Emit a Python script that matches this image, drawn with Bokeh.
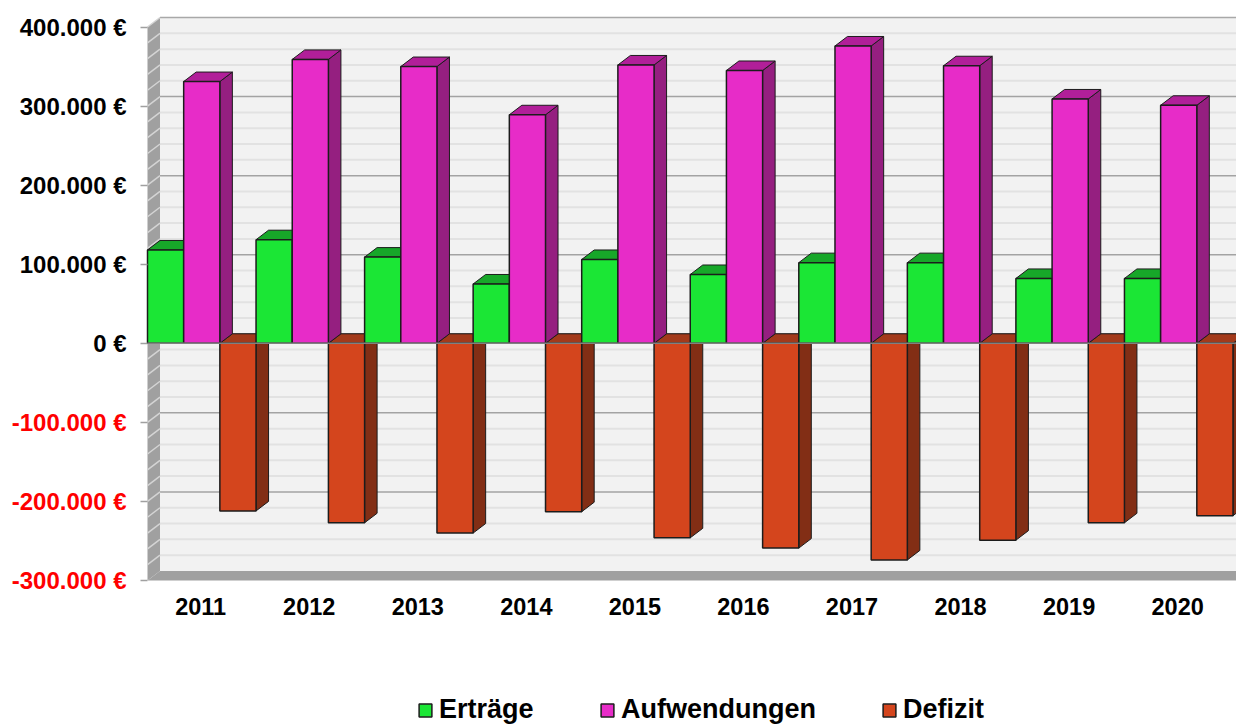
from bokeh.plotting import figure
from bokeh.models import (ColumnDataSource, FixedTicker, Legend, LegendItem, LinearAxis, Range1d)
from bokeh.embed import file_html
from bokeh.resources import INLINE
import numpy as np

years = ["2011","2012","2013","2014","2015","2016","2017","2018","2019","2020"]
ertraege = [118000,131000,109000,75000,106000,87000,102000,102000,82000,82000]
aufwendungen = [331000,359000,350000,289000,352000,345000,376000,351000,309000,301000]
defizit = [-212000,-227000,-240000,-213000,-246000,-259000,-274000,-249000,-227000,-218000]
pos_ticks = [400000,300000,200000,100000,0]
pos_labels = ["400.000 €","300.000 €","200.000 €","100.000 €","0 €"]
neg_ticks = [-100000,-200000,-300000]
neg_labels = ["-100.000 €","-200.000 €","-300.000 €"]

W, H = 1236, 724
X0, Y_FLOOR = 147, 580    # pixel position of value x=0 and of -300.000
PXV = 553.5 / 700000      # px per euro
PXC = 108.55              # px per category
DX, DY = 12.5 / PXC, 9.5 / PXV   # depth in data units
BW = 1 / 3
FONT = "Liberation Sans"

p = figure(width=W, height=H, output_backend="svg", toolbar_location=None,
           x_range=Range1d(-X0 / PXC, (W - X0) / PXC),
           y_range=Range1d(-300000 - (H - Y_FLOOR) / PXV, -300000 + Y_FLOOR / PXV),
           min_border_left=0, min_border_right=0, min_border_top=0, min_border_bottom=0,
           outline_line_color=None, background_fill_color="white", border_fill_color="white")
p.grid.visible = False
XR = (W - X0) / PXC + 1

# walls
p.quad(left=[DX], right=[XR], bottom=[-300000 + DY], top=[400000 + DY],
       fill_color="#f2f2f2", line_color=None)
p.patches(xs=[[0, DX, DX, 0]], ys=[[-300000, -300000 + DY, 400000 + DY, 400000]],
          fill_color="#a0a0a0", line_color=None)
p.patches(xs=[[0, DX, XR, XR]], ys=[[-300000, -300000 + DY, -300000 + DY, -300000]],
          fill_color="#a0a0a0", line_color=None)

minor = [float(v) for v in np.arange(-280000, 400000, 20000) if v % 100000 != 0]
major = [float(v) for v in np.arange(-200000, 400000, 100000)]
p.multi_line(xs=[[DX, XR]] * len(minor), ys=[[v + DY, v + DY] for v in minor],
             line_color="#e2e2e2", line_width=2)
p.multi_line(xs=[[DX, XR]] * len(major), ys=[[v + DY, v + DY] for v in major],
             line_color="#a3a3a3", line_width=1.5)
p.line([DX, XR], [400000 + DY, 400000 + DY], line_color="#a8a8a8", line_width=1.5)
diag = minor + major + [400000.0]
p.multi_line(xs=[[0, DX]] * len(diag), ys=[[v, v + DY] for v in diag],
             line_color="#d4d4d4", line_width=1.5)

OUT = "#1c1c1c"

def bars(values, slot, front, top, side):
    lefts = [i + slot * BW for i in range(len(values))]
    rights = [l + BW for l in lefts]
    p.patches(xs=[[r, r + DX, r + DX, r] for r in rights],
              ys=[[0, DY, v + DY, v] for v in values],
              fill_color=side, line_color=OUT, line_width=1)
    tv = [max(v, 0) for v in values]
    p.patches(xs=[[l, l + DX, r + DX, r] for l, r in zip(lefts, rights)],
              ys=[[v, v + DY, v + DY, v] for v in tv],
              fill_color=top, line_color=OUT, line_width=1)
    src = ColumnDataSource(dict(left=lefts, right=rights,
                                top=[max(v, 0) for v in values],
                                bottom=[min(v, 0) for v in values]))
    return p.quad(left="left", right="right", top="top", bottom="bottom", source=src,
                  fill_color=front, line_color=OUT, line_width=1.5)

r_def = bars(defizit, 2, "#d4451d", "#a33a1b", "#822e15")
r_ert = bars(ertraege, 0, "#1be635", "#17a729", "#17a729")
r_auf = bars(aufwendungen, 1, "#e72cc8", "#b11f99", "#951f80")

# zero line in the front plane
p.line([0, XR], [0, 0], line_color="#808080", line_width=1.5)

def style_y(ax, ticks, labels, color):
    ax.fixed_location = 0
    ax.ticker = FixedTicker(ticks=ticks)
    ax.major_label_overrides = dict(zip(ticks, labels))
    ax.axis_line_color = None
    ax.major_tick_out = 7
    ax.major_tick_in = 0
    ax.major_tick_line_color = "#a0a0a0"
    ax.major_tick_line_width = 1.5
    ax.minor_tick_line_color = None
    ax.major_label_standoff = 14
    ax.major_label_text_font = FONT
    ax.major_label_text_font_style = "bold"
    ax.major_label_text_font_size = "24px"
    ax.major_label_text_color = color

style_y(p.yaxis[0], pos_ticks, pos_labels, "black")
neg_axis = LinearAxis()
style_y(neg_axis, neg_ticks, neg_labels, "#ff0000")
p.add_layout(neg_axis, "left")

ticks_x = [i + 0.49 for i in range(len(years))]
xa = p.xaxis[0]
xa.fixed_location = -300000
xa.ticker = FixedTicker(ticks=ticks_x)
xa.major_label_overrides = dict(zip(ticks_x, years))
xa.axis_line_color = None
xa.major_tick_line_color = None
xa.minor_tick_line_color = None
xa.major_tick_out = 0
xa.major_tick_in = 0
xa.major_label_standoff = 17
xa.major_label_text_font = FONT
xa.major_label_text_font_style = "bold"
xa.major_label_text_font_size = "23.5px"
xa.major_label_text_color = "black"

# legends
for label, rend, lx in [("Erträge", r_ert, 417), ("Aufwendungen", r_auf, 599), ("Defizit", r_def, 881)]:
    lg = Legend(items=[LegendItem(label=label, renderers=[rend])], location=(lx, -1),
                orientation="horizontal", padding=0, margin=0, spacing=0,
                glyph_width=16, glyph_height=16, label_standoff=6, label_height=24,
                background_fill_alpha=0, border_line_color=None,
                label_text_font=FONT, label_text_font_style="bold",
                label_text_font_size="27px", label_text_color="black")
    p.add_layout(lg)

open("out.html", "w").write(file_html(p, INLINE))
